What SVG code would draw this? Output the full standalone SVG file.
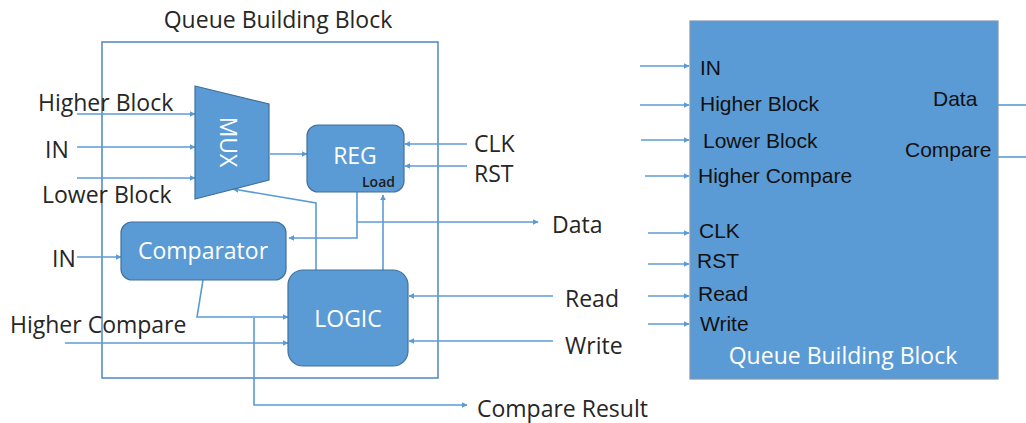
<svg xmlns="http://www.w3.org/2000/svg" width="1026" height="423" viewBox="0 0 1026 423">
<defs>
<style>
.bg{fill:#ffffff}
.frame{fill:none;stroke:#4f86c0;stroke-width:1.5}
.blk{fill:#5b9bd5;stroke:#41719c;stroke-width:1.2}
.big{fill:#5b9bd5;stroke:#8496b0;stroke-width:1.2}
.wire{fill:none;stroke:#5b9bd5;stroke-width:1.6}
.arr{marker-end:url(#ah)}
.lbl{font-family:"Open Sans","Noto Sans",sans-serif;font-size:23px;fill:#262626}
.wt{font-family:"Open Sans","Noto Sans",sans-serif;font-size:23px;fill:#ffffff}
.load{font-family:"Open Sans","Noto Sans",sans-serif;font-size:14px;font-weight:600;fill:#1a1a1a}
.pl{font-family:"Liberation Sans",Arial,sans-serif;font-size:21px;fill:#111111}
</style>
<marker id="ah" viewBox="0 0 10 10" refX="9" refY="5" markerWidth="6" markerHeight="6" orient="auto" markerUnits="userSpaceOnUse">
<path d="M0,0 L10,5 L0,10 z" fill="#5b9bd5"/>
</marker>
</defs>
<rect class="bg" x="0" y="0" width="1026" height="423"/>

<g id="outer-frame">
<rect class="frame" x="102" y="42" width="336" height="336"/>
<text class="lbl" x="278" y="28" text-anchor="middle">Queue Building Block</text>
</g>

<g id="connectors">
<path class="wire arr" d="M77,114 H195"/>
<path class="wire arr" d="M77,147 H195"/>
<path class="wire arr" d="M77,178 H195"/>
<path class="wire arr" d="M270,154 H307"/>
<path class="wire arr" d="M467,144 H405"/>
<path class="wire arr" d="M467,166 H405"/>
<path class="wire arr" d="M357,192 V238 H289"/>
<path class="wire arr" d="M357,222 H538"/>
<path class="wire arr" d="M383,270 V195"/>
<path class="wire arr" d="M316,270 V203 L233,189"/>
<path class="wire arr" d="M77,257 H121"/>
<path class="wire arr" d="M203,280 L197,317 H288"/>
<path class="wire arr" d="M65,343 H288"/>
<path class="wire arr" d="M254,318 V405 H467"/>
<path class="wire arr" d="M553,296 H409"/>
<path class="wire arr" d="M553,341 H409"/>
<path class="wire arr" d="M640,66 H689"/>
<path class="wire arr" d="M640,105 H689"/>
<path class="wire arr" d="M641,140 H689"/>
<path class="wire arr" d="M645,176 H689"/>
<path class="wire arr" d="M648,233 H689"/>
<path class="wire arr" d="M648,264 H689"/>
<path class="wire arr" d="M648,296 H689"/>
<path class="wire arr" d="M648,324 H689"/>
<path class="wire" d="M998,105 H1026"/>
<path class="wire" d="M998,157 H1026"/>
</g>

<g id="mux">
<polygon class="blk" points="195,86 269,104 269,180 195,199"/>
<text class="wt" x="0" y="0" text-anchor="middle" transform="translate(220,142) rotate(90)">MUX</text>
</g>

<g id="reg">
<rect class="blk" x="307" y="125" width="97" height="67" rx="11"/>
<text class="wt" x="355" y="164" text-anchor="middle">REG</text>
<text class="load" x="395" y="187" text-anchor="end">Load</text>
</g>

<g id="comparator">
<rect class="blk" x="121" y="222" width="165" height="58" rx="11"/>
<text class="wt" x="203" y="259" text-anchor="middle">Comparator</text>
</g>

<g id="logic">
<rect class="blk" x="288" y="270" width="120" height="96" rx="15"/>
<text class="wt" x="348" y="327" text-anchor="middle">LOGIC</text>
</g>

<g id="left-labels">
<text class="lbl" x="38" y="111">Higher Block</text>
<text class="lbl" x="45" y="158">IN</text>
<text class="lbl" x="42" y="203">Lower Block</text>
<text class="lbl" x="474" y="152">CLK</text>
<text class="lbl" x="474" y="182">RST</text>
<text class="lbl" x="552" y="233">Data</text>
<text class="lbl" x="52" y="267">IN</text>
<text class="lbl" x="10" y="333">Higher Compare</text>
<text class="lbl" x="565" y="307">Read</text>
<text class="lbl" x="565" y="354">Write</text>
<text class="lbl" x="477" y="417">Compare Result</text>
</g>

<g id="queue-block">
<rect class="big" x="690" y="21" width="308" height="358"/>
<text class="pl" x="700" y="75">IN</text>
<text class="pl" x="700" y="111">Higher Block</text>
<text class="pl" x="703" y="148">Lower Block</text>
<text class="pl" x="698" y="183">Higher Compare</text>
<text class="pl" x="933" y="106">Data</text>
<text class="pl" x="905" y="157">Compare</text>
<text class="pl" x="699" y="238">CLK</text>
<text class="pl" x="697" y="268">RST</text>
<text class="pl" x="698" y="301">Read</text>
<text class="pl" x="700" y="331">Write</text>
<text class="wt" x="843" y="364" text-anchor="middle">Queue Building Block</text>
</g>
</svg>
